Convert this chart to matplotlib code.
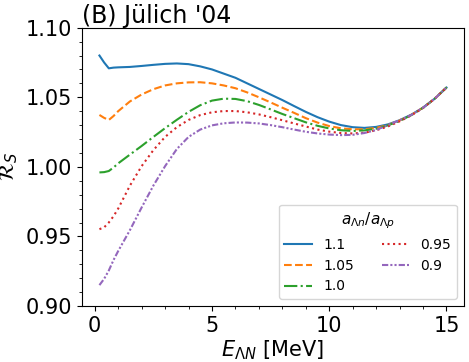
import matplotlib.pyplot as plt
from matplotlib.ticker import AutoMinorLocator, MultipleLocator

plt.rcParams['font.size'] = 15

# Energy grid (MeV)
E = [0.2, 0.4, 0.6, 0.8, 1.0, 1.5, 2.0, 2.5, 3.0, 3.5, 4.0, 4.5, 5.0, 5.5,
     6.0, 6.5, 7.0, 7.5, 8.0, 8.5, 9.0, 9.5, 10.0, 10.5, 11.0, 11.5, 12.0,
     12.5, 13.0, 13.5, 14.0, 14.5, 15.0]

# R_S for the different a_Ln/a_Lp ratios
r_110 = [1.0800, 1.0750, 1.0708, 1.0713, 1.0715, 1.0718, 1.0725, 1.0733,
         1.0740, 1.0743, 1.0738, 1.0722, 1.0700, 1.0670, 1.0640, 1.0600,
         1.0560, 1.0520, 1.0480, 1.0437, 1.0395, 1.0357, 1.0325, 1.0300,
         1.0285, 1.0280, 1.0287, 1.0305, 1.0335, 1.0375, 1.0425, 1.0490,
         1.0570]
r_105 = [1.0373, 1.0352, 1.0337, 1.0365, 1.0400, 1.0470, 1.0520, 1.0558,
         1.0585, 1.0600, 1.0607, 1.0608, 1.0600, 1.0585, 1.0565, 1.0535,
         1.0500, 1.0463, 1.0425, 1.0388, 1.0350, 1.0318, 1.0293, 1.0277,
         1.0270, 1.0270, 1.0280, 1.0300, 1.0333, 1.0373, 1.0425, 1.0490,
         1.0570]
r_100 = [0.9960, 0.9962, 0.9970, 0.9995, 1.0025, 1.0088, 1.0150, 1.0215,
         1.0278, 1.0338, 1.0395, 1.0443, 1.0476, 1.0490, 1.0488, 1.0472,
         1.0445, 1.0413, 1.0380, 1.0350, 1.0320, 1.0295, 1.0276, 1.0263,
         1.0258, 1.0262, 1.0274, 1.0298, 1.0330, 1.0372, 1.0425, 1.0490,
         1.0570]
r_095 = [0.9552, 0.9565, 0.9600, 0.9645, 0.9700, 0.9865, 1.0005, 1.0120,
         1.0215, 1.0285, 1.0337, 1.0372, 1.0392, 1.0401, 1.0401, 1.0392,
         1.0377, 1.0357, 1.0335, 1.0312, 1.0290, 1.0268, 1.0253, 1.0243,
         1.0240, 1.0245, 1.0263, 1.0290, 1.0327, 1.0370, 1.0423, 1.0490,
         1.0570]
r_090 = [0.9150, 0.9195, 0.9255, 0.9330, 0.9395, 0.9545, 0.9708, 0.9865,
         1.0005, 1.0128, 1.0215, 1.0268, 1.0298, 1.0313, 1.0319, 1.0318,
         1.0312, 1.0300, 1.0285, 1.0268, 1.0252, 1.0240, 1.0232, 1.0228,
         1.0230, 1.0243, 1.0265, 1.0300, 1.0335, 1.0373, 1.0425, 1.0490,
         1.0570]

fig = plt.figure(figsize=(4.69, 3.62), dpi=100)
ax = fig.add_axes([0.175, 0.1547, 0.814, 0.7688])

ax.plot(E, r_110, '-', color='C0', label='1.1')
ax.plot(E, r_105, '--', color='C1', label='1.05')
ax.plot(E, r_100, '-.', color='C2', label='1.0')
ax.plot(E, r_095, ':', color='C3', label='0.95')
ax.plot(E, r_090, linestyle=(0, (3, 1, 1, 1, 1, 1)), color='C4', label='0.9')

ax.set_ylim(0.90, 1.10)
ax.yaxis.set_major_locator(MultipleLocator(0.05))
ax.xaxis.set_major_locator(MultipleLocator(5))
ax.xaxis.set_minor_locator(AutoMinorLocator(5))
ax.yaxis.set_minor_locator(AutoMinorLocator(5))

ax.set_xlabel(r'$E_{\Lambda N}$ [MeV]', labelpad=2)
ax.set_ylabel(r'$\mathcal{R}_S$', labelpad=4)
ax.set_title("(B) Jülich '04", loc='left', fontsize=17, pad=3)

ax.legend(loc='lower right', ncol=2, fontsize=10, title=r'$a_{\Lambda n}/a_{\Lambda p}$',
          title_fontsize=11)

plt.savefig('out.png', dpi=100)
